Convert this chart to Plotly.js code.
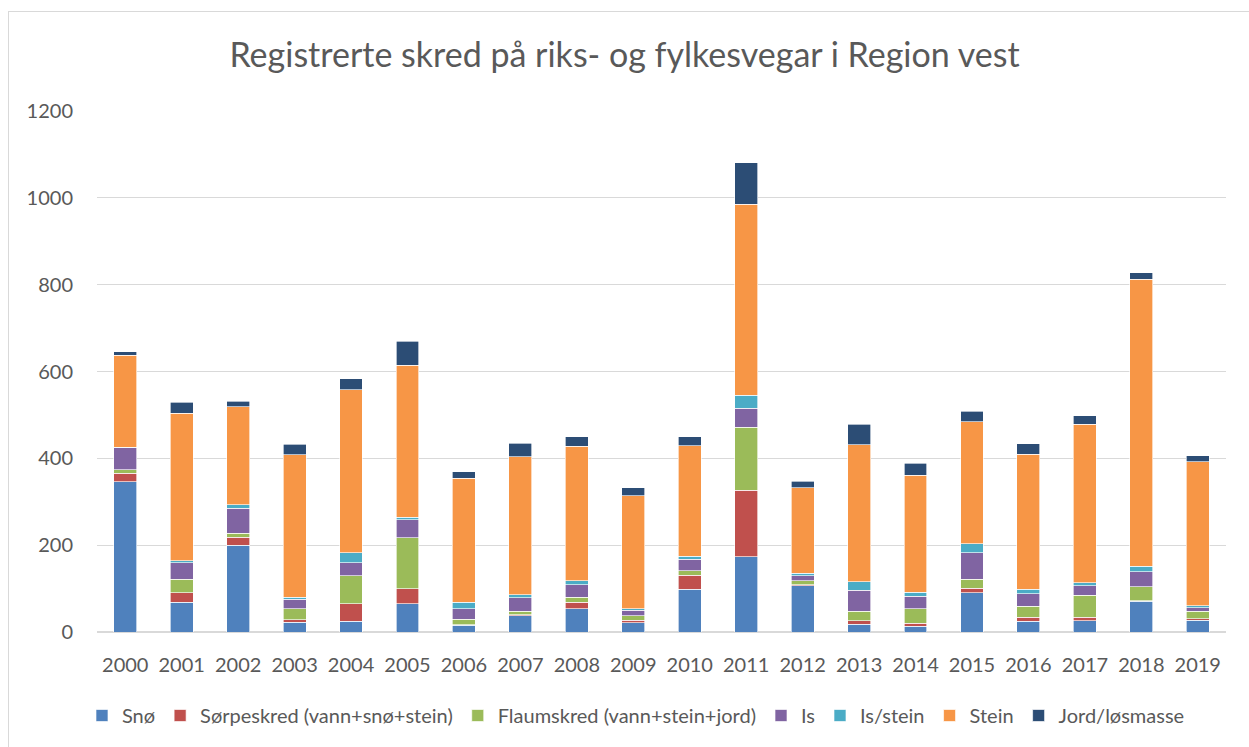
<!DOCTYPE html>
<html>
<head>
<meta charset="utf-8">
<script src="https://cdn.plot.ly/plotly-3.0.1.min.js"></script>
<style>
html,body{margin:0;padding:0;background:#fff;overflow:hidden;}
#frame{position:absolute;left:8px;top:11px;width:1300px;height:800px;border:1px solid #d9d9d9;box-sizing:border-box;}
#chart{position:absolute;left:0;top:0;width:1249px;height:747px;}
</style>
</head>
<body>
<div id="frame"></div>
<div id="chart"></div>
<script>
const years = ["2000","2001","2002","2003","2004","2005","2006","2007","2008","2009","2010","2011","2012","2013","2014","2015","2016","2017","2018","2019"];
const sno      = [346, 68, 200, 23, 25, 65, 15, 38, 54, 21, 99, 173, 107, 18, 13, 90, 25, 26, 71, 27];
const sorpe    = [20, 22, 18, 5, 40, 35, 2, 2, 14, 6, 32, 154, 2, 8, 7, 11, 9, 8, 1, 4];
const flaum    = [8, 32, 10, 25, 65, 117, 12, 8, 12, 10, 10, 145, 9, 22, 34, 20, 25, 51, 32, 17];
const is       = [50, 38, 57, 22, 30, 42, 25, 31, 29, 13, 26, 43, 12, 48, 28, 62, 29, 22, 35, 8];
const isstein  = [1, 4, 8, 5, 22, 5, 15, 7, 9, 3, 7, 30, 5, 20, 10, 20, 11, 6, 12, 5];
const stein    = [213, 340, 226, 328, 376, 350, 285, 318, 310, 261, 255, 440, 197, 315, 269, 281, 310, 365, 661, 331];
const jord     = [8, 25, 12, 25, 25, 56, 15, 31, 22, 18, 21, 96, 15, 48, 28, 25, 25, 20, 15, 14];

const seriesNames = ["Snø", "Sørpeskred (vann+snø+stein)", "Flaumskred (vann+stein+jord)", "Is", "Is/stein", "Stein", "Jord/løsmasse"];
const seriesData = [sno, sorpe, flaum, is, isstein, stein, jord];
const seriesColors = ["#4F81BD", "#C0504D", "#9BBB59", "#8064A2", "#4BACC6", "#F79646", "#2C4D75"];

const font = "Lato, 'Open Sans', sans-serif";

const traces = seriesNames.map((n, i) => ({
  type: "bar",
  name: n,
  x: years,
  y: seriesData[i],
  marker: {color: seriesColors[i], line: {color: "rgba(255,255,255,0.8)", width: 0.8}},
  hoverinfo: "x+y+name"
}));

const layout = {
  width: 1249,
  height: 747,
  paper_bgcolor: "rgba(0,0,0,0)",
  plot_bgcolor: "rgba(0,0,0,0)",
  barmode: "stack",
  bargap: 0.595,
  margin: {l: 97, r: 23, t: 111, b: 115, autoexpand: false},
  font: {family: font, color: "#595959", size: 20},
  title: {
    text: "Registrerte skred på riks- og fylkesvegar i Region vest",
    font: {family: font, size: 34, color: "#595959"},
    x: 0.5, xanchor: "center",
    y: 1 - 55/747, yanchor: "middle"
  },
  xaxis: {
    type: "category",
    showgrid: false,
    showline: false,
    zeroline: false,
    ticks: "",
    tickfont: {size: 20, color: "#595959"},
    ticklabelstandoff: 19
  },
  yaxis: {
    range: [0, 1200],
    tickvals: [0, 200, 400, 600, 800, 1000, 1200],
    showgrid: true,
    gridcolor: "#d9d9d9",
    gridwidth: 1.3,
    zeroline: true,
    zerolinecolor: "#d9d9d9",
    zerolinewidth: 1.3,
    showline: false,
    ticks: "",
    tickfont: {size: 20, color: "#595959"},
    ticklabelstandoff: 23
  },
  legend: {
    orientation: "h",
    x: 0.4774, xanchor: "center",
    yref: "container",
    y: 1 - 696/747, yanchor: "top",
    font: {size: 20, color: "#595959"},
    traceorder: "normal",
    itemwidth: 30
  },
  showlegend: true
};

Plotly.newPlot("chart", traces, layout, {displayModeBar: false, staticPlot: true});
</script>
</body>
</html>
